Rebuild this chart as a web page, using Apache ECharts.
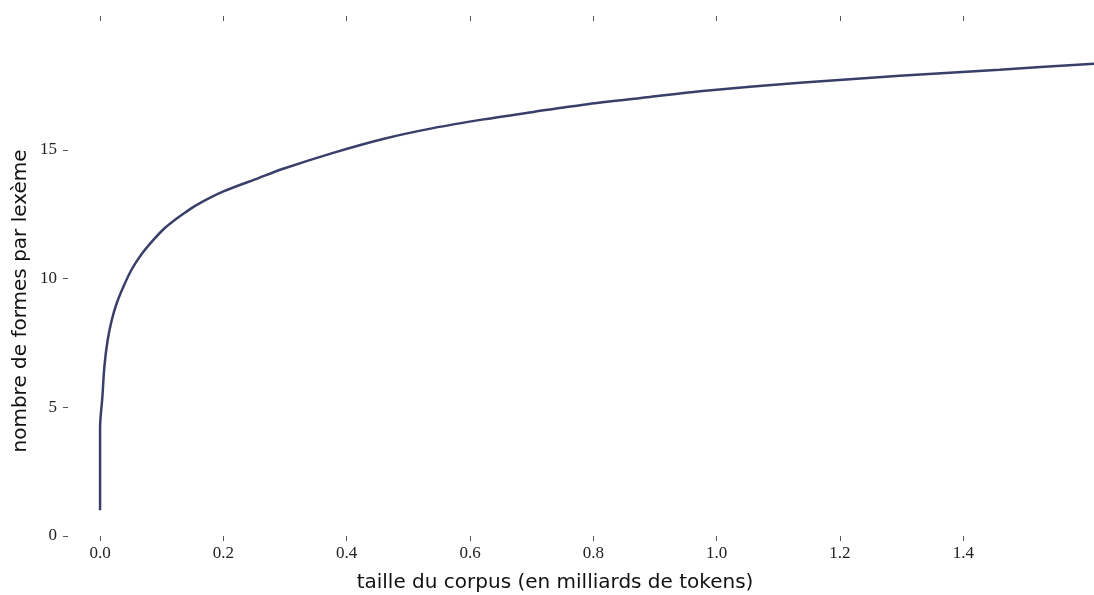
<!DOCTYPE html>
<html>
<head>
<meta charset="utf-8">
<script src="https://cdn.jsdelivr.net/npm/echarts@6/dist/echarts.min.js"></script>
<style>html,body{margin:0;padding:0;background:#fff;}#c{width:1094px;height:595px;}</style>
</head>
<body>
<div id="c"></div>
<script>
// corpus size (billions of tokens)
const corpusSize = [0, 0, 0.0038, 0.0070, 0.0124, 0.019, 0.027, 0.038, 0.051, 0.0675, 0.0865, 0.105, 0.119, 0.138, 0.157, 0.2, 0.257, 0.297, 0.378, 0.459, 0.540, 0.622, 0.703, 0.784, 0.892, 0.973, 1.135, 1.297, 1.459, 1.612];
// forms per lexeme
const formsPerLexeme = [1.0, 4.2, 5.41, 6.58, 7.62, 8.39, 9.04, 9.69, 10.34, 10.95, 11.50, 11.96, 12.23, 12.56, 12.86, 13.38, 13.90, 14.26, 14.88, 15.42, 15.84, 16.18, 16.47, 16.75, 17.05, 17.27, 17.60, 17.87, 18.11, 18.34];
const xTicks = [0, 0.2, 0.4, 0.6, 0.8, 1.0, 1.2, 1.4];
const yTicks = [0, 5, 10, 15];

const chart = echarts.init(document.getElementById('c'));
const tickFont = 'Liberation Serif';
chart.setOption({
  animation: false,
  grid: {left: 68, right: 0, top: 21, bottom: 59, containLabel: false},
  xAxis: [
    {
      type: 'value', min: -0.052, max: 1.612, position: 'bottom',
      axisLine: {show: false, onZero: false}, splitLine: {show: false},
      axisTick: {show: true, length: 5, customValues: xTicks, lineStyle: {color: '#555'}},
      axisLabel: {customValues: xTicks, margin: 9, color: '#222', fontFamily: tickFont, fontSize: 17,
        formatter: v => v.toFixed(1)}
    },
    {
      type: 'value', min: -0.052, max: 1.612, position: 'top',
      axisLine: {show: false, onZero: false}, splitLine: {show: false},
      axisTick: {show: true, length: 5, customValues: xTicks, lineStyle: {color: '#555'}},
      axisLabel: {show: false}
    }
  ],
  yAxis: {
    type: 'value', min: 0, max: 20,
    axisLine: {show: false, onZero: false}, splitLine: {show: false},
    axisTick: {show: true, length: 5, customValues: yTicks, lineStyle: {color: '#555'}},
    axisLabel: {customValues: yTicks, margin: 11, color: '#222', fontFamily: tickFont, fontSize: 17}
  },
  graphic: [
    {type: 'text', x: 555, y: 583, style: {text: 'taille du corpus (en milliards de tokens)', font: '20px "DejaVu Sans"', fill: '#111', textAlign: 'center', textVerticalAlign: 'middle'}},
    {type: 'text', x: 21, y: 301, rotation: Math.PI / 2, style: {text: 'nombre de formes par lexème', font: '20px "DejaVu Sans"', fill: '#111', textAlign: 'center', textVerticalAlign: 'middle'}}
  ],
  series: [{
    type: 'line',
    xAxisIndex: 0,
    data: corpusSize.map((x, i) => [x, formsPerLexeme[i]]),
    showSymbol: false,
    smooth: 0.3,
    lineStyle: {color: '#383f68', width: 2.5},
    clip: true
  }]
});
</script>
</body>
</html>
